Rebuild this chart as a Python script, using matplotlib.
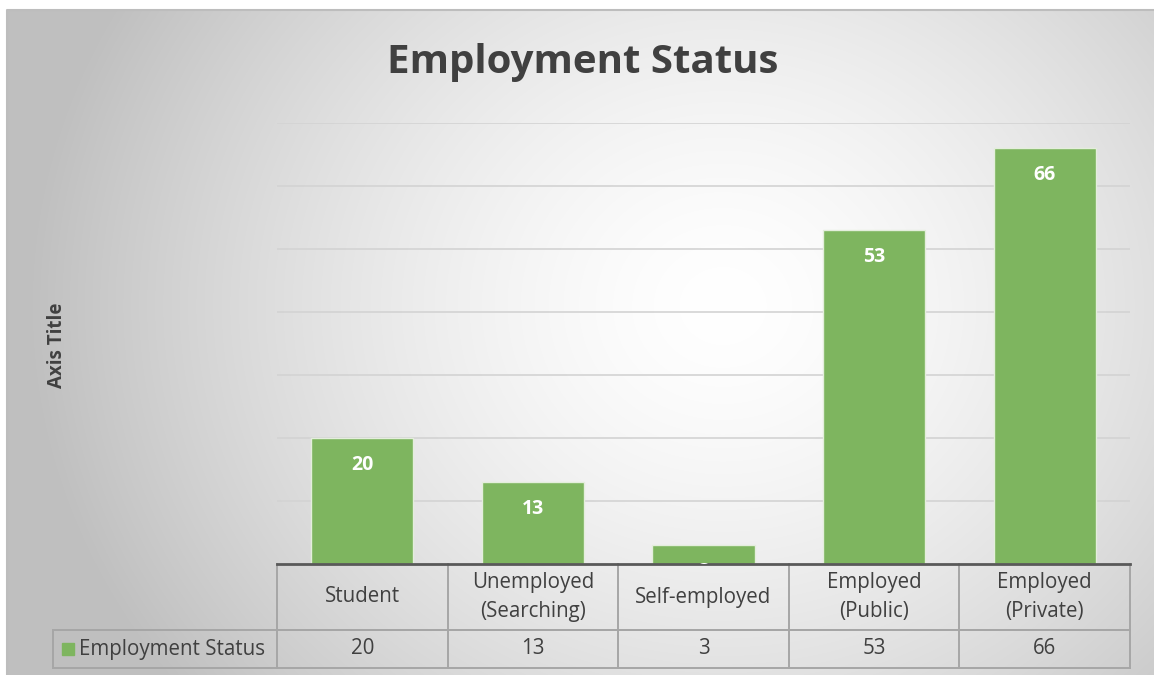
import numpy as np
import matplotlib
matplotlib.use("Agg")
import matplotlib.pyplot as plt
from matplotlib.transforms import blended_transform_factory

# data
categories = ['Student', 'Unemployed\n(Searching)', 'Self-employed', 'Employed\n(Public)', 'Employed\n(Private)']
values = [20, 13, 3, 53, 66]
series_name = 'Employment Status'

plt.rcParams['font.family'] = ['Open Sans', 'DejaVu Sans']
W, H = 1154, 675
fig = plt.figure(figsize=(W / 100, H / 100), dpi=100)

# background with radial gradient
bg = fig.add_axes([0, 0, 1, 1])
bg.set_xlim(0, W)
bg.set_ylim(H, 0)
bg.axis('off')
yy, xx = np.mgrid[0:H, 0:W]
r = np.sqrt(((xx - 720) / 1.0) ** 2 + ((yy - 300) / 0.9) ** 2)
t = np.clip(r / 700, 0, 1) ** 1.5
shade = 1.0 - 0.25 * t
img = np.dstack([shade, shade, shade])
bg.imshow(img, extent=(7, W, H, 10), aspect='auto', zorder=0)
bg.plot([7, 7, W], [H, 10, 10], color='#bdbdbd', lw=1.5, zorder=1)

ax = fig.add_axes([277 / W, (H - 564) / H, 853 / W, 441 / H])
ax.patch.set_alpha(0)
x = np.arange(len(categories))
bars = ax.bar(x, values, width=0.6, color='#7eb55f', edgecolor='#e4eedc', linewidth=1, zorder=3)
ax.set_xlim(-0.5, len(categories) - 0.5)
ax.set_ylim(0, 70)
ax.set_yticks(np.arange(10, 71, 10))
ax.yaxis.grid(True, color='#d3d3d3', linewidth=1.2)
ax.set_axisbelow(True)
ax.tick_params(left=False, bottom=False, labelleft=False, labelbottom=False)
for s in ax.spines.values():
    s.set_visible(False)

for b, v in zip(bars, values):
    ax.annotate(str(v), (b.get_x() + b.get_width() / 2, v), xytext=(0, -27),
                textcoords='offset pixels', ha='center', va='center',
                color='white', fontsize=14, fontweight='bold', zorder=4,
                annotation_clip=True, clip_on=True)

# data table under the axis
tr = blended_transform_factory(ax.transData, ax.transAxes)
y_top, y_mid, y_bot = 0.0, -66 / 441, -104 / 441
x_leg = -0.5 - 224 / 170.6
n = len(categories)
grid_kw = dict(color='#a6a6a6', lw=1.4, transform=tr, clip_on=False, zorder=2)
for i in range(n + 1):
    ax.plot([i - 0.5, i - 0.5], [y_top, y_bot], **grid_kw)
ax.plot([-0.5, n - 0.5], [y_mid, y_mid], **grid_kw)
ax.plot([x_leg, n - 0.5], [y_mid, y_mid], **grid_kw)
ax.plot([x_leg, n - 0.5], [y_bot, y_bot], **grid_kw)
ax.plot([x_leg, x_leg], [y_mid, y_bot], **grid_kw)
ax.plot([-0.5, n - 0.5], [y_top, y_top], color='#595959', lw=2, transform=tr, clip_on=False, zorder=3)

txt_kw = dict(transform=tr, ha='center', va='center', color='#404040', fontsize=14.8, clip_on=False)
for i, (c, v) in enumerate(zip(categories, values)):
    ax.text(i, (y_top + y_mid) / 2, c, linespacing=1.45, **txt_kw)
    ax.text(i, (y_mid + y_bot) / 2, str(v), **txt_kw)

ax.plot([x_leg + 0.09], [(y_mid + y_bot) / 2], marker='s', ms=9, color='#7eb55f',
        transform=tr, clip_on=False, zorder=3)
ax.text(x_leg + 0.15, (y_mid + y_bot) / 2, series_name, transform=tr, ha='left', va='center',
        color='#404040', fontsize=14.8, clip_on=False)

fig.text(583 / W, 1 - 63 / H, 'Employment Status', ha='center', va='center',
         fontsize=29, fontweight='bold', color='#404040')
fig.text(57 / W, 1 - 345 / H, 'Axis Title', ha='center', va='center', rotation=90,
         fontsize=13.5, fontweight='bold', color='#404040')

fig.savefig('out.png', dpi=100)
